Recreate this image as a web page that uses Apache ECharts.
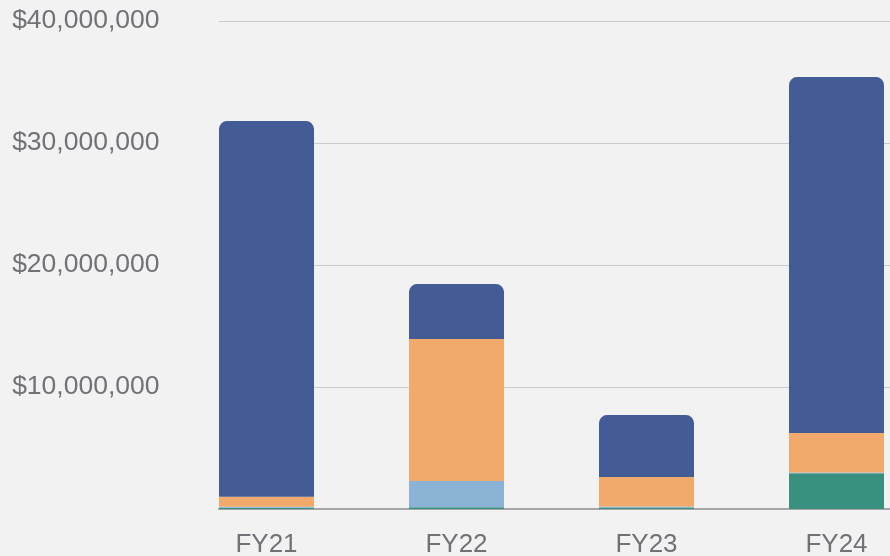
<!DOCTYPE html>
<html>
<head>
<meta charset="utf-8">
<script src="https://cdn.jsdelivr.net/npm/echarts@6/dist/echarts.min.js"></script>
<style>
  html, body { margin: 0; padding: 0; background: #f2f2f2; }
  #chartArea { width: 890px; height: 556px; }
</style>
</head>
<body>
<div id="chartArea"></div>
<script>
// fiscal years
var years = ['FY21', 'FY22', 'FY23', 'FY24'];
// stacked segments, bottom to top (dollars)
var greenVals = [100000, 150000, 120000, 2930000];
var lightBlueVals = [80000, 2150000, 80000, 60000];
var orangeVals = [820000, 11630000, 2420000, 3240000];
var darkBlueVals = [30800000, 4510000, 5080000, 29170000];
var yTicks = [0, 10000000, 20000000, 30000000, 40000000];

var fmtMoney = function (v) {
    if (v === 0) return '';
    return '$' + String(v).replace(/\B(?=(\d{3})+(?!\d))/g, ',');
};

var labelColor = '#707277';

var option = {
    backgroundColor: '#f2f2f2',
    animation: false,
    grid: [
        // bars + labels
        {left: 171.5, width: 760, top: 21, bottom: 47, outerBoundsMode: 'none', containLabel: false},
        // gridlines + baseline
        {left: 219, right: 0, top: 21, bottom: 47, outerBoundsMode: 'none', containLabel: false}
    ],
    xAxis: [
        {
            type: 'category',
            gridIndex: 0,
            data: years,
            axisLine: {show: false},
            axisTick: {show: false},
            axisLabel: {
                color: labelColor,
                fontSize: 26,
                fontFamily: 'Liberation Sans, Arial, sans-serif',
                margin: 23
            }
        },
        {
            type: 'category',
            gridIndex: 1,
            data: years,
            axisLine: {show: true, lineStyle: {color: '#a6a6a6', width: 2}},
            axisTick: {show: false},
            axisLabel: {show: false}
        }
    ],
    yAxis: [
        {
            type: 'value',
            gridIndex: 0,
            min: yTicks[0],
            max: yTicks[yTicks.length - 1],
            interval: 10000000,
            splitLine: {show: false},
            axisLine: {show: false},
            axisTick: {show: false},
            axisLabel: {
                color: labelColor,
                fontSize: 26.5,
                fontFamily: 'Liberation Sans, Arial, sans-serif',
                margin: 12,
                formatter: fmtMoney
            }
        },
        {
            type: 'value',
            gridIndex: 1,
            min: yTicks[0],
            max: yTicks[yTicks.length - 1],
            interval: 10000000,
            splitLine: {show: true, lineStyle: {color: '#cbcbcb', width: 1}},
            axisLine: {show: false},
            axisTick: {show: false},
            axisLabel: {show: false}
        }
    ],
    series: [
        {
            name: 'Green', type: 'bar', stack: 'total', barWidth: 95,
            xAxisIndex: 0, yAxisIndex: 0, z: 3,
            itemStyle: {color: '#3a907f'},
            data: greenVals
        },
        {
            name: 'Light blue', type: 'bar', stack: 'total', barWidth: 95,
            xAxisIndex: 0, yAxisIndex: 0, z: 3,
            itemStyle: {color: '#8ab3d6'},
            data: lightBlueVals
        },
        {
            name: 'Orange', type: 'bar', stack: 'total', barWidth: 95,
            xAxisIndex: 0, yAxisIndex: 0, z: 3,
            itemStyle: {color: '#f2aa6c'},
            data: orangeVals
        },
        {
            name: 'Dark blue', type: 'bar', stack: 'total', barWidth: 95,
            xAxisIndex: 0, yAxisIndex: 0, z: 3,
            itemStyle: {color: '#435c95', borderRadius: [8, 8, 0, 0]},
            data: darkBlueVals
        }
    ]
};

var myChart = echarts.init(document.getElementById('chartArea'));
myChart.setOption(option);
</script>
</body>
</html>
